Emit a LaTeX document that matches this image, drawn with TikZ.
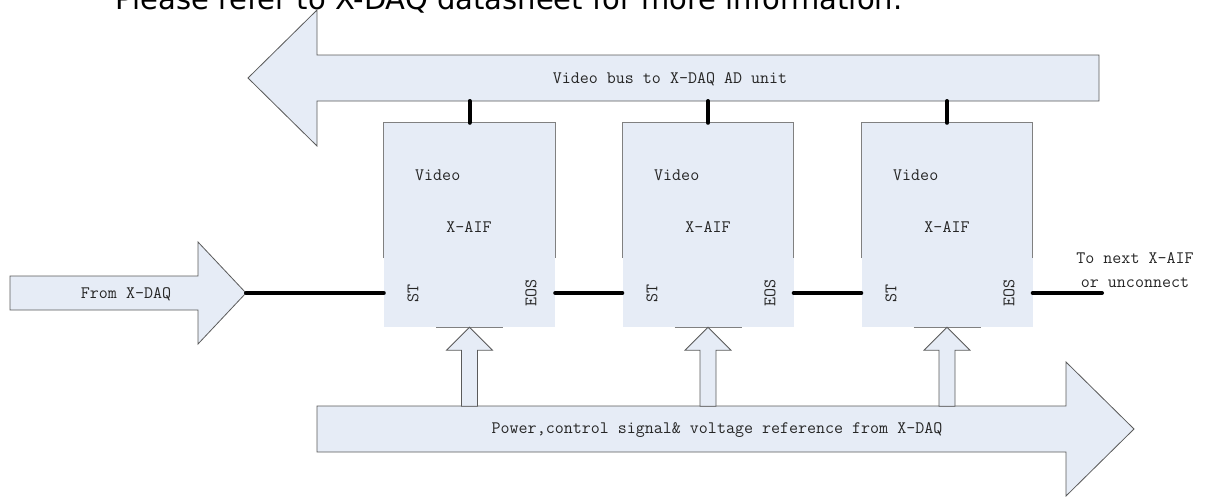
\documentclass[tikz,border=0pt]{standalone}
\usepackage{fontspec}
\newfontfamily\notefont{DejaVu Sans}
\usepackage{tikz}
\usetikzlibrary{shapes, arrows}
\tikzstyle{aifbox} = [rectangle, fill={rgb,255: red, 230; green, 236; blue, 246}, minimum width=171pt, minimum height=204pt, inner sep=0pt]
\tikzstyle{boxline} = [draw={rgb,255: red, 128; green, 128; blue, 128}, line width=0.8pt]
\tikzstyle{bigarrow} = [draw={rgb,255: red, 90; green, 90; blue, 90}, fill={rgb,255: red, 230; green, 236; blue, 246}, line width=0.8pt]
\tikzstyle{wire} = [draw, line width=4pt, line cap=round]
\tikzstyle{txt} = [font=\ttfamily\fontsize{17.5}{24}\selectfont, text={rgb,255: red, 38; green, 38; blue, 38}, inner sep=0pt]

\begin{document}
\begin{tikzpicture}[x=1pt, y=-1pt]
\useasboundingbox (0,0) rectangle (1205,496);

% note at the top, cut by the page
\node [anchor=base west, inner sep=0pt, font=\notefont\fontsize{29}{34}\selectfont] at (115,9) (note) {Please refer to X-DAQ datasheet for more information.};

% video bus
\path [bigarrow] (1099,55) -- (317,55) -- (317,10) -- (248,78) -- (317,146) -- (317,101) -- (1099,101) -- cycle;
\node [txt] at (670,79) (videobus) {Video bus to X-DAQ AD unit};
\coordinate (vbus) at (708,101);

% power bus
\path [bigarrow] (317,406) -- (1066,406) -- (1066,362) -- (1134,429) -- (1066,496) -- (1066,452) -- (317,452) -- cycle;
\node [txt] at (717,430) (powerbus) {Power,control signal\& voltage reference from X-DAQ};

% input
\path [bigarrow] (10,276) -- (198,276) -- (198,242) -- (246,293) -- (198,344) -- (198,310) -- (10,310) -- cycle;
\node [txt] at (126,294) (fromdaq) {From X-DAQ};
\coordinate (fromtip) at (246,293);

% X-AIF units
\node [aifbox] at (469.5,225) (xaif1) {};
\node [aifbox] at (708,225) (xaif2) {};
\node [aifbox] at (947,225) (xaif3) {};

\path [boxline] ([yshift=69pt]xaif1.south west) |- (xaif1.north east) -- ([yshift=69pt]xaif1.south east);
\path [boxline] ([yshift=69pt]xaif2.south west) |- (xaif2.north east) -- ([yshift=69pt]xaif2.south east);
\path [boxline] ([yshift=69pt]xaif3.south west) |- (xaif3.north east) -- ([yshift=69pt]xaif3.south east);

\node [txt, anchor=west] at (415,175) (video1) {Video};
\node [txt, anchor=west] at (654,175) (video2) {Video};
\node [txt, anchor=west] at (893,175) (video3) {Video};

\node [txt] at (469,227) (aif1) {X-AIF};
\node [txt] at (708,227) (aif2) {X-AIF};
\node [txt] at (947,227) (aif3) {X-AIF};

\node [txt, rotate=90] at (413,293) (st1) {ST};
\node [txt, rotate=90] at (652,293) (st2) {ST};
\node [txt, rotate=90] at (891,293) (st3) {ST};
\node [txt, rotate=90] at (531,293) (eos1) {EOS};
\node [txt, rotate=90] at (770,293) (eos2) {EOS};
\node [txt, rotate=90] at (1009,293) (eos3) {EOS};

% feeds from the power bus
\path [boxline] ([xshift=-33.5pt]xaif1.south) -- ([xshift=33.5pt]xaif1.south);
\path [boxline] ([xshift=-33.5pt]xaif2.south) -- ([xshift=33.5pt]xaif2.south);
\path [boxline] ([xshift=-33.5pt]xaif3.south) -- ([xshift=33.5pt]xaif3.south);
\path [bigarrow] (xaif1.south) -- ++(23,23) -- ++(-15,0) -- ++(0,56) -- ++(-16,0) -- ++(0,-56) -- ++(-15,0) -- cycle;
\path [bigarrow] (xaif2.south) -- ++(23,23) -- ++(-15,0) -- ++(0,56) -- ++(-16,0) -- ++(0,-56) -- ++(-15,0) -- cycle;
\path [bigarrow] (xaif3.south) -- ++(23,23) -- ++(-15,0) -- ++(0,56) -- ++(-16,0) -- ++(0,-56) -- ++(-15,0) -- cycle;

% outputs to the video bus
\path [wire] (xaif1.north) -- (xaif1.north |- vbus);
\path [wire] (xaif2.north) -- (xaif2.north |- vbus);
\path [wire] (xaif3.north) -- (xaif3.north |- vbus);

% ST / EOS chain
\coordinate (nextaif) at (1102,293);
\path [wire] (fromtip) -- (xaif1.west |- st1);
\path [wire] (xaif1.east |- eos1) -- (xaif2.west |- st2);
\path [wire] (xaif2.east |- eos2) -- (xaif3.west |- st3);
\path [wire] (xaif3.east |- eos3) -- (nextaif);
\node [txt, align=center] at (1135,270) (nextnote) {To next X-AIF\\or unconnect};

\end{tikzpicture}
\end{document}
